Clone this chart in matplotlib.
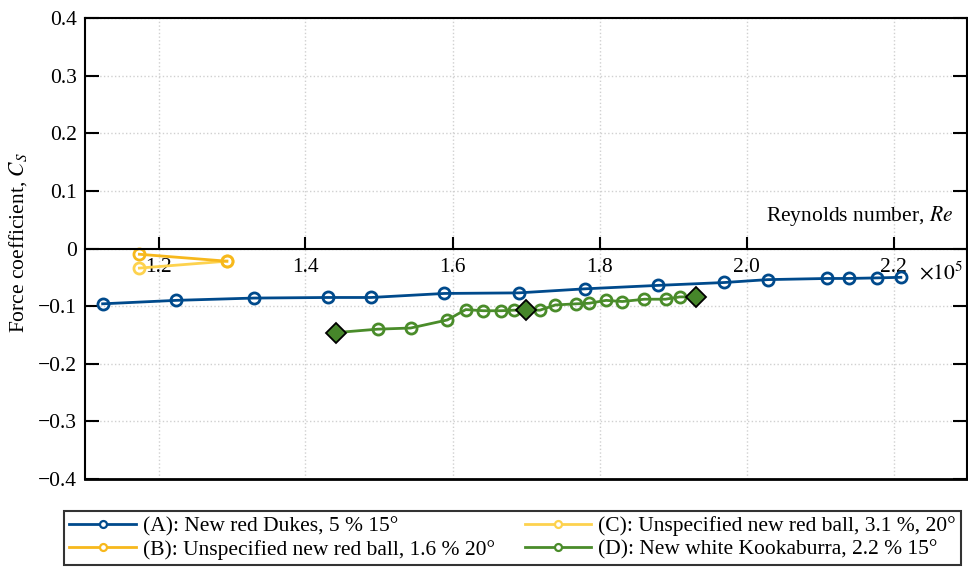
import matplotlib
matplotlib.use("Agg")
import matplotlib.pyplot as plt

plt.rcParams['font.family'] = ['Liberation Serif', 'DejaVu Serif']
plt.rcParams['mathtext.fontset'] = 'stix'

# Reynolds number (x 10^5) and side force coefficient C_S
a_re = [1.124, 1.224, 1.330, 1.431, 1.489, 1.589, 1.690, 1.780, 1.880, 1.970,
        2.029, 2.110, 2.139, 2.178, 2.210]
a_cs = [-0.096, -0.090, -0.086, -0.085, -0.085, -0.078, -0.077, -0.070, -0.064,
        -0.059, -0.054, -0.052, -0.052, -0.051, -0.050]

b_re = [1.174, 1.293]
b_cs = [-0.010, -0.022]

c_re = [1.174, 1.293]
c_cs = [-0.034, -0.022]

d_re = [1.441, 1.498, 1.543, 1.593, 1.618, 1.642, 1.666, 1.684, 1.700, 1.719,
        1.740, 1.768, 1.786, 1.809, 1.831, 1.861, 1.890, 1.909, 1.931]
d_cs = [-0.146, -0.140, -0.138, -0.124, -0.106, -0.108, -0.108, -0.107, -0.107,
        -0.107, -0.098, -0.096, -0.095, -0.090, -0.092, -0.088, -0.088, -0.084,
        -0.084]
d_diamond = [0, 8, 18]   # points drawn as diamonds

col_a = '#004a8c'
col_b = '#f7b81c'
col_c = '#fdd24e'
col_d = '#4a8c2a'

fs = 15.5

fig = plt.figure(figsize=(9.68, 5.67), dpi=100)
ax = fig.add_axes([85/968, 1 - 479/567, (967-85)/968, (479-18)/567])

mk = dict(marker='o', markersize=8, markerfacecolor='none', markeredgewidth=2, lw=2)
ax.plot(a_re, a_cs, color=col_a, label='(A): New red Dukes, 5 % 15°', **mk)
ax.plot(c_re, c_cs, color=col_c, label='(C): Unspecified new red ball, 3.1 %, 20°', **mk)
ax.plot(b_re, b_cs, color=col_b, label='(B): Unspecified new red ball, 1.6 % 20°', **mk)
circ = [i for i in range(len(d_re)) if i not in d_diamond]
ax.plot(d_re, d_cs, color=col_d, markevery=circ,
        label='(D): New white Kookaburra, 2.2 % 15°', **mk)
ax.plot([d_re[i] for i in d_diamond], [d_cs[i] for i in d_diamond], ls='none',
        marker='D', markersize=10, markerfacecolor='#46862a', markeredgecolor='k',
        markeredgewidth=1.3)

ax.set_xlim(1.1, 2.3)
ax.set_ylim(-0.4, 0.4)
ax.set_xticks([1.2, 1.4, 1.6, 1.8, 2.0, 2.2])
ax.set_xticklabels(['1.2', '1.4', '1.6', '1.8', '2.0', '2.2'])
ax.set_yticks([0.4, 0.3, 0.2, 0.1, 0, -0.1, -0.2, -0.3, -0.4])
ax.set_yticklabels(['0.4', '0.3', '0.2', '0.1', '0', '\u22120.1', '\u22120.2',
                    '\u22120.3', '\u22120.4'])
ax.grid(True, ls=':', color='#d0d0d0', lw=1)

ax.spines['bottom'].set_position(('data', 0))
for s in ax.spines.values():
    s.set_linewidth(1.5)
ax.plot([0, 1], [0, 0], transform=ax.transAxes, color='k', lw=2, clip_on=False)
ax.tick_params(axis='x', direction='in', length=9, width=1.5, pad=7, labelsize=fs)
ax.tick_params(axis='y', direction='in', length=10, width=1.5, pad=6, labelsize=fs,
               right=True)

ax.text(2.281, 0.056, 'Reynolds number, $\\it{Re}$', fontsize=fs,
        ha='right', va='center')
ax.text(2.235, -0.042, '$\\times 10^5$', fontsize=fs, ha='left', va='center')
ax.set_ylabel('Force coefficient, $C_S$', fontsize=fs)
ax.yaxis.set_label_coords(-0.064, 0.512)

handles, labels = ax.get_legend_handles_labels()
order = [0, 2, 1, 3]
leg = ax.legend([handles[i] for i in order], [labels[i] for i in order], ncol=2,
                loc='upper left', bbox_to_anchor=(64/968, 1 - 511/567),
                bbox_transform=fig.transFigure, fontsize=fs, frameon=True,
                fancybox=False, edgecolor='k', handlelength=3.1, borderpad=0.25,
                borderaxespad=0, columnspacing=1.4, labelspacing=0.15, handletextpad=0.3)
leg.get_frame().set_linewidth(1.5)
for ln in leg.get_lines():
    ln.set_markersize(5)
    ln.set_markeredgewidth(1.6)
    ln.set_markerfacecolor('white')

fig.savefig('out.png', dpi=100)
